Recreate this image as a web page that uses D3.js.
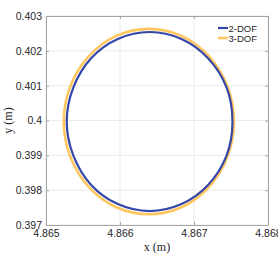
<!DOCTYPE html>
<html>
<head>
<meta charset="utf-8">
<script src="https://cdn.jsdelivr.net/npm/d3@7"></script>
<style>
body { margin: 0; background: #fff; }
svg text { font-family: "Liberation Sans", Arial, sans-serif; }
</style>
</head>
<body>
<div id="chartDiv"></div>
<script>
// trajectories (x, y in metres)
const dof2X = [4.86752, 4.86744, 4.86719, 4.86683, 4.86640, 4.86597, 4.86561, 4.86537,
               4.86528, 4.86537, 4.86561, 4.86597, 4.86640, 4.86683, 4.86719, 4.86744];
const dof2Y = [0.39997, 0.40095, 0.40179, 0.40234, 0.40254, 0.40234, 0.40179, 0.40095,
               0.39997, 0.39899, 0.39815, 0.39760, 0.39740, 0.39760, 0.39815, 0.39899];
const dof3X = [4.86754, 4.86745, 4.86720, 4.86683, 4.86639, 4.86595, 4.86558, 4.86533,
               4.86524, 4.86533, 4.86558, 4.86595, 4.86639, 4.86683, 4.86720, 4.86745];
const dof3Y = [0.39997, 0.40099, 0.40185, 0.40243, 0.40263, 0.40243, 0.40185, 0.40099,
               0.39997, 0.39895, 0.39809, 0.39751, 0.39731, 0.39751, 0.39809, 0.39895];
const xTicks = [4.865, 4.866, 4.867, 4.868];
const yTicks = [0.397, 0.398, 0.399, 0.4, 0.401, 0.402, 0.403];
const seriesNames = ["2-DOF", "3-DOF"];

const W = 278, H = 278;
const margin = { left: 46, right: 10, top: 16, bottom: 53 };
const innerW = W - margin.left - margin.right;
const innerH = H - margin.top - margin.bottom;

const svg = d3.select('#chartDiv').append('svg')
    .attr('width', W).attr('height', H);
const g = svg.append('g').attr('transform', `translate(${margin.left},${margin.top})`);

const x = d3.scaleLinear().domain([4.865, 4.868]).range([0, innerW]);
const y = d3.scaleLinear().domain([0.397, 0.403]).range([innerH, 0]);

//grid
g.selectAll('.vgrid').data(xTicks).enter().append('line')
    .attr('x1', d => x(d)).attr('x2', d => x(d)).attr('y1', 0).attr('y2', innerH)
    .attr('stroke', '#ebebeb').attr('stroke-width', 1);
g.selectAll('.hgrid').data(yTicks).enter().append('line')
    .attr('y1', d => y(d)).attr('y2', d => y(d)).attr('x1', 0).attr('x2', innerW)
    .attr('stroke', '#ebebeb').attr('stroke-width', 1);

const fmt = d => d === 0.4 ? '0.4' : d3.format('.3f')(d);

//axes, ticks inward on all four sides
const axisStyle = sel => {
    sel.select('.domain').attr('stroke', '#a6a6a6');
    sel.selectAll('.tick line').attr('stroke', '#a6a6a6');
    sel.selectAll('.tick text').attr('fill', '#262626').style('font-size', '10.5px');
};
g.append('g').attr('transform', `translate(0,${innerH})`)
    .call(d3.axisBottom(x).tickValues(xTicks).tickFormat(fmt).tickSizeInner(-3).tickSizeOuter(0).tickPadding(5))
    .call(axisStyle);
g.append('g')
    .call(d3.axisTop(x).tickValues(xTicks).tickFormat('').tickSizeInner(-3).tickSizeOuter(0))
    .call(axisStyle);
g.append('g')
    .call(d3.axisLeft(y).tickValues(yTicks).tickFormat(fmt).tickSizeInner(-3).tickSizeOuter(0).tickPadding(4))
    .call(axisStyle);
g.append('g').attr('transform', `translate(${innerW},0)`)
    .call(d3.axisRight(y).tickValues(yTicks).tickFormat('').tickSizeInner(-3).tickSizeOuter(0))
    .call(axisStyle);

//curves
const path = d3.line().x(d => x(d[0])).y(d => y(d[1])).curve(d3.curveCatmullRomClosed);
const pts3 = dof3X.map((v, i) => [v, dof3Y[i]]);
const pts2 = dof2X.map((v, i) => [v, dof2Y[i]]);

g.append('path').attr('d', path(pts3)).attr('fill', 'none')
    .attr('stroke', '#ffc75f').attr('stroke-width', 2.6);
g.append('path').attr('d', path(pts2)).attr('fill', 'none')
    .attr('stroke', '#3446a8').attr('stroke-width', 2.2);

//legend
const legColors = ['#3446a8', '#ffc75f'];
const legWidths = [2.2, 2.6];
const leg = svg.append('g').attr('transform', 'translate(218,28)');
seriesNames.forEach((name, i) => {
    leg.append('line').attr('x1', 0).attr('x2', 10).attr('y1', i * 10).attr('y2', i * 10)
        .attr('stroke', legColors[i]).attr('stroke-width', legWidths[i]);
    leg.append('text').attr('x', 10.5).attr('y', i * 10 + 3.5)
        .style('font-size', '9.5px').attr('fill', '#262626').text(name);
});

//axis labels
svg.append('text').attr('x', margin.left + innerW / 2).attr('y', 251)
    .attr('text-anchor', 'middle').style('font-family', '"Liberation Serif", serif')
    .style('font-size', '12px').attr('fill', '#262626').text('x (m)');
svg.append('text').attr('transform', `translate(12,${margin.top + innerH / 2}) rotate(-90)`)
    .attr('text-anchor', 'middle').style('font-family', '"Liberation Serif", serif')
    .style('font-size', '12px').attr('fill', '#262626').text('y (m)');
</script>
</body>
</html>
